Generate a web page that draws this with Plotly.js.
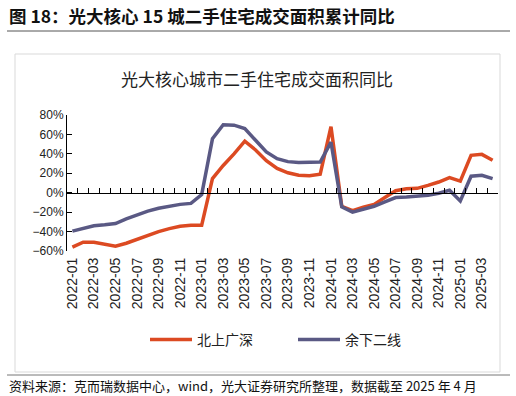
<!DOCTYPE html>
<html><head><meta charset="utf-8">
<script src="https://cdn.plot.ly/plotly-3.0.1.min.js"></script>
<style>html,body{margin:0;padding:0;background:#fff}#chart{width:516px;height:396px}</style>
</head><body><div id="chart"></div>
<script>
const months = ['2022-01','2022-02','2022-03','2022-04','2022-05','2022-06','2022-07','2022-08','2022-09','2022-10','2022-11','2022-12',
  '2023-01','2023-02','2023-03','2023-04','2023-05','2023-06','2023-07','2023-08','2023-09','2023-10','2023-11','2023-12',
  '2024-01','2024-02','2024-03','2024-04','2024-05','2024-06','2024-07','2024-08','2024-09','2024-10','2024-11','2024-12',
  '2025-01','2025-02','2025-03','2025-04'];
// 北上广深 (%)
const tier1 = [-56,-51,-51,-53,-55,-52,-48,-44,-40,-37,-34.5,-33.5,
  -33.5,14.5,28,40,53,44,33,25,20.5,18,17.5,19,
  68,-14,-18.5,-15,-12,-5,2,4,4.5,7.5,11,15.5,
  12,38.5,39.5,33.5];
// 余下二线 (%)
const others = [-39.5,-37,-34,-33,-31.7,-27,-23,-19,-16,-14,-12,-11,
  -2,55.5,70,69.5,66,54,42,35,32,31,31,31.5,
  52,-14.5,-20,-17,-14,-9.5,-5,-4.5,-3.5,-2.5,-0.5,2.5,
  -8.5,17,18,14.5];
const tickLabels = ['2022-01','2022-03','2022-05','2022-07','2022-09','2022-11','2023-01','2023-03','2023-05','2023-07',
  '2023-09','2023-11','2024-01','2024-03','2024-05','2024-07','2024-09','2024-11','2025-01','2025-03'];
const seriesNames = ['北上广深','余下二线'];
const seriesColors = ['#dc4a22','#5a5984'];

const W=516,H=396,L=67,R=18,T=115,B=145;
const pw=W-L-R, ph=H-T-B;
const px = x => (x-L)/pw;
const py = y => (H-B-y)/ph;
const CJK = '"Noto Sans CJK SC", "Noto Sans", sans-serif';
const LAT = '"Liberation Sans", Arial, sans-serif';

const traces = [
  {x: months, y: tier1, name: seriesNames[0], type:'scatter', mode:'lines', xaxis:'x', yaxis:'y',
   line:{color:seriesColors[0], width:3.5}},
  {x: months, y: others, name: seriesNames[1], type:'scatter', mode:'lines', xaxis:'x2', yaxis:'y',
   line:{color:seriesColors[1], width:3.5}}
];

const layout = {
  width: W, height: H,
  margin: {l:L, r:R, t:T, b:B, pad:0},
  paper_bgcolor:'#fff', plot_bgcolor:'#fff',
  font: {family: LAT, color:'#222'},
  showlegend: true,
  legend: {orientation:'h', x: px(145), xanchor:'left', y: py(340), yanchor:'middle',
    font:{family:CJK, size:14, color:'#222'}, itemwidth:42, entrywidth:91, entrywidthmode:'pixels',
    bgcolor:'rgba(0,0,0,0)'},
  xaxis: {type:'category', categoryorder:'array', categoryarray: months, range:[-0.5, months.length-0.5],
    tickmode:'array', tickvals: tickLabels, ticktext: tickLabels, tickangle:-90,
    ticks:'', showline:false, showgrid:false, zeroline:false, ticklabelstandoff:3,
    tickfont:{family:LAT, size:14, color:'#222'}, fixedrange:true},
  xaxis2: {type:'category', categoryorder:'array', categoryarray: months, range:[-0.5, months.length-0.5],
    overlaying:'x', anchor:'free', position: 60/140, side:'bottom',
    tickson:'boundaries', ticks:'inside', ticklen:5, tickcolor:'#000', tickwidth:1,
    showticklabels:false, showline:true, linecolor:'#000', linewidth:1, showgrid:false, zeroline:false, dtick:1},
  yaxis: {range:[-60,80], dtick:20, ticksuffix:'%', ticks:'inside', ticklen:5, tickcolor:'#000',
    showline:true, linecolor:'#000', linewidth:1, showgrid:false, zeroline:false,
    tickfont:{family:LAT, size:12, color:'#222'}},
  shapes: [
    {type:'line', xref:'paper', yref:'paper', x0:px(7), x1:px(510), y0:py(31), y1:py(31), line:{color:'#555', width:1}},
    {type:'rect', xref:'paper', yref:'paper', x0:px(15), x1:px(500), y0:py(54), y1:py(372), line:{color:'#d9d9d9', width:1}},
    {type:'line', xref:'paper', yref:'paper', x0:px(7), x1:px(510), y0:py(375), y1:py(375), line:{color:'#777', width:1}}
  ],
  annotations: [
    {xref:'paper', yref:'paper', x:px(7), y:py(15), xanchor:'left', yanchor:'middle', showarrow:false,
     text:'<b>图 18：光大核心 15 城二手住宅成交面积累计同比</b>', font:{family:CJK, size:17.5, color:'#111'}},
    {xref:'paper', yref:'paper', x:px(257), y:py(78), xanchor:'center', yanchor:'middle', showarrow:false,
     text:'光大核心城市二手住宅成交面积同比', font:{family:CJK, size:17, color:'#222'}},
    {xref:'paper', yref:'paper', x:px(7), y:py(385), xanchor:'left', yanchor:'middle', showarrow:false,
     text:'资料来源：克而瑞数据中心，wind，光大证券研究所整理，数据截至 2025 年 4 月', font:{family:CJK, size:13, color:'#111'}}
  ]
};
Plotly.newPlot('chart', traces, layout, {displayModeBar:false, staticPlot:true});
</script></body></html>
